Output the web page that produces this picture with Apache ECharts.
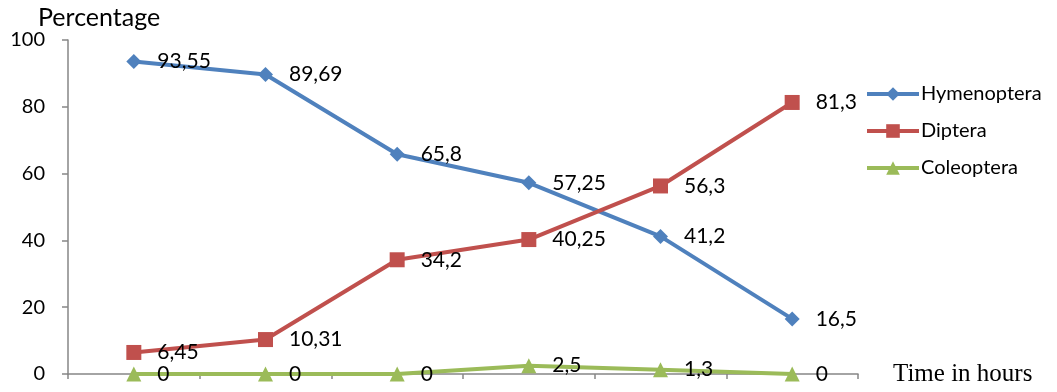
<!DOCTYPE html>
<html><head><meta charset="utf-8">
<script src="https://cdn.jsdelivr.net/npm/echarts@6/dist/echarts.min.js"></script>
<style>html,body{margin:0;padding:0;background:#fff}#c{width:1057px;height:392px}</style>
</head><body><div id="c"></div>
<script>
const categories = ['1', '2', '3', '4', '5', '6'];
const hymenoptera = [93.55, 89.69, 65.8, 57.25, 41.2, 16.5];
const diptera = [6.45, 10.31, 34.2, 40.25, 56.3, 81.3];
const coleoptera = [0, 0, 0, 2.5, 1.3, 0];
const yTicks = [0, 20, 40, 60, 80, 100];

const FONT = 'Lato';
const fmt = p => String(p.value).replace('.', ',');
function mk(name, data, color, symbol, size) {
  return {
    name, type: 'line', data, symbol, symbolSize: size,
    lineStyle: { color, width: 4 }, itemStyle: { color },
    label: { show: true, position: 'right', distance: 16, formatter: fmt,
      fontFamily: FONT, fontSize: 21, color: '#000' },
    z: 2
  };
}
const chart = echarts.init(document.getElementById('c'));
chart.setOption({
  animation: false,
  grid: { left: 68, right: 199, top: 40, bottom: 18, containLabel: false },
  legend: {
    orient: 'vertical', left: 860, top: 79, itemWidth: 52, itemHeight: 17, itemGap: 17,
    lineStyle: { width: 4 },
    textStyle: { fontFamily: FONT, fontSize: 20, color: '#000', padding: [0, 0, 0, -3] },
    data: ['Hymenoptera', 'Diptera', 'Coleoptera']
  },
  xAxis: {
    type: 'category', data: categories, boundaryGap: true,
    name: 'Time in hours', nameLocation: 'end', nameGap: 35,
    nameTextStyle: { fontFamily: 'Liberation Serif', fontSize: 25, color: '#000', verticalAlign: 'middle', padding: [6,0,0,0] },
    axisLine: { lineStyle: { color: '#868686', width: 1.5 } },
    axisTick: { show: true, inside: false, length: 5, lineStyle: { color: '#868686', width: 1.5 } },
    axisLabel: { show: false }, splitLine: { show: false }
  },
  yAxis: {
    type: 'value', min: yTicks[0], max: yTicks[yTicks.length - 1], interval: 20,
    name: 'Percentage', nameLocation: 'end', nameGap: 10,
    nameTextStyle: { fontFamily: FONT, fontSize: 25, color: '#000', align: 'left', padding: [0, 0, 0, -30] },
    axisLine: { show: true, lineStyle: { color: '#868686', width: 1.5 } },
    axisTick: { show: true, length: 6, lineStyle: { color: '#868686', width: 1.5 } },
    axisLabel: { fontFamily: FONT, fontSize: 20, color: '#000', margin: 23 },
    splitLine: { show: false }
  },
  series: [
    mk('Hymenoptera', hymenoptera, '#4F81BD', 'diamond', 15),
    mk('Diptera', diptera, '#C0504D', 'rect', 15),
    mk('Coleoptera', coleoptera, '#9BBB59', 'triangle', 15)
  ]
});
</script></body></html>
